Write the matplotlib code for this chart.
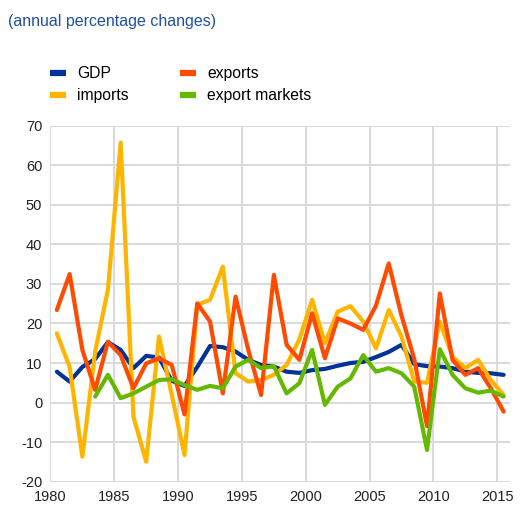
import matplotlib
matplotlib.use("Agg")
import matplotlib.pyplot as plt
from matplotlib.lines import Line2D
import numpy as np

plt.rcParams['font.family'] = ['Liberation Sans', 'DejaVu Sans']
plt.rcParams['axes.unicode_minus'] = False

years = list(range(1980, 2016))
gdp = [7.8, 5.3, 9.0, 11.0, 15.3, 13.3, 8.7, 11.8, 11.4, 5.5, 4.2, 9.0, 14.3, 14.0,
       12.9, 10.8, 9.5, 9.1, 7.8, 7.5, 8.2, 8.5, 9.3, 10.0, 10.3, 11.5, 12.8, 14.6,
       9.7, 9.2, 9.1, 8.7, 7.8, 7.5, 7.4, 7.0]
imports = [17.5, 9.0, -13.7, 12.9, 28.5, 65.8, -3.6, -15.0, 16.7, 2.0, -13.3, 24.7,
           26.0, 34.4, 7.4, 5.3, 5.7, 7.0, 9.5, 16.0, 26.0, 15.0, 23.0, 24.4, 20.5,
           13.7, 23.4, 16.7, 5.3, 5.0, 20.5, 11.6, 8.7, 10.8, 5.7, 1.9]
exports = [23.4, 32.5, 13.3, 3.2, 15.4, 12.0, 3.6, 9.9, 11.2, 9.5, -3.0, 25.1, 20.5,
           2.3, 26.8, 13.3, 1.9, 32.3, 14.6, 10.8, 22.6, 11.2, 21.3, 20.0, 18.4, 24.5,
           35.2, 22.0, 11.0, -6.0, 27.6, 10.8, 7.0, 8.7, 3.6, -2.3]
markets_years = list(range(1983, 2016))
markets = [1.5, 7.0, 1.1, 2.3, 4.0, 5.7, 5.9, 4.4, 3.2, 4.2, 3.6, 9.1, 10.8, 8.7, 9.2,
           2.3, 4.9, 13.3, -0.6, 4.0, 6.1, 12.0, 7.8, 8.7, 7.4, 4.0, -12.0, 13.5, 7.0,
           3.6, 2.5, 3.0, 1.5]

series_names = ["GDP", "imports", "exports", "export markets"]
colors = {"GDP": "#003299", "imports": "#FFB400", "exports": "#FF4B00",
          "export markets": "#65B800"}

fig = plt.figure(figsize=(5.22, 5.09), dpi=100)
ax = fig.add_axes([0.0967, 0.054, 0.977 - 0.0967, 0.7525 - 0.054])

xs = np.array(years) + 0.5
xm = np.array(markets_years) + 0.5
lw = 3.0
kw = dict(lw=lw, solid_capstyle='round', solid_joinstyle='round')
ax.plot(xs, gdp, color=colors["GDP"], zorder=3, **kw)
ax.plot(xs, imports, color=colors["imports"], zorder=4, **kw)
ax.plot(xs, exports, color=colors["exports"], zorder=5, **kw)
ax.plot(xm, markets, color=colors["export markets"], zorder=6, **kw)

ax.set_xlim(1980, 2016)
ax.set_ylim(-20, 70)
ax.set_xticks(range(1980, 2016, 5))
ax.set_yticks(range(-20, 71, 10))
ax.grid(True, color="#d9d9d9", lw=1.4)
ax.set_axisbelow(True)
for s in ax.spines.values():
    s.set_visible(False)
ax.tick_params(length=0, labelsize=10.5, colors="#222222", pad=6)

handles = [Line2D([], [], color=colors[n], lw=4.5, solid_capstyle='butt') for n in series_names]
fig.legend(handles, series_names, loc="upper left", bbox_to_anchor=(0.096, 0.870),
           ncol=2, frameon=False, fontsize=11.3, handlelength=1.0,
           handletextpad=0.7, columnspacing=3.3, labelspacing=0.45,
           borderaxespad=0, borderpad=0)

fig.text(0.015, 0.958, "(annual percentage changes)", color="#1F4FA8", fontsize=11.5,
         ha="left", va="center")

fig.savefig("out.png", dpi=100)
